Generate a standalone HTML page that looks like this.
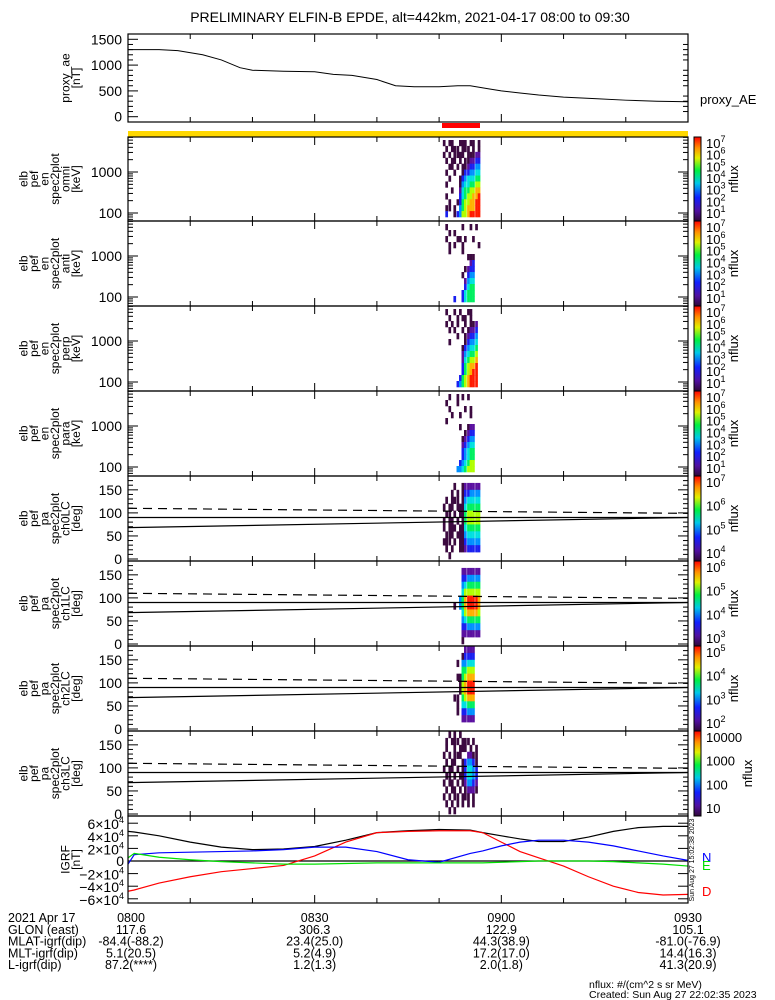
<!DOCTYPE html>
<html><head><meta charset="utf-8">
<style>
html,body{margin:0;padding:0;background:#fff;}
svg{display:block;font-family:"Liberation Sans",sans-serif;}
</style></head>
<body>
<svg id="c" width="775" height="1000" viewBox="0 0 775 1000" xmlns="http://www.w3.org/2000/svg">
<text x="410" y="22" text-anchor="middle" font-size="14" fill="#000">PRELIMINARY ELFIN-B EPDE, alt=442km, 2021-04-17 08:00 to 09:30</text>
</svg>
<script>
// ---------- data ----------
const aeTimes = [0,5,8,12,15,18,20,25,30,33,36,40,43,46,50,53,55,58,60,63,66,70,75,80,85,90];
const aeValues = [1300,1300,1280,1200,1100,950,900,880,870,820,800,720,600,580,580,600,600,540,500,460,420,380,350,320,300,290];
const aeTicks = [0,500,1000,1500];

const igrfTimes = [0,1,5,10,15,20,25,30,35,40,45,50,55,57,60,63,66,70,74,78,82,86,90];
const igrfT = [47000,46000,40000,30000,22000,18000,19000,23000,33000,45000,48000,50000,49000,45000,40000,35000,31000,31000,38000,47000,53000,55000,55000];
const igrfD = [-48000,-46000,-35000,-25000,-17000,-12000,-7000,8000,30000,45000,47000,48000,48000,45000,30000,15000,5000,-8000,-25000,-40000,-50000,-54000,-53000];
const igrfN = [-5000,10000,13000,14000,15000,16000,18000,22000,22000,15000,2000,-2000,12000,16000,24000,30000,33000,33000,30000,24000,16000,8000,1000];
const igrfE = [5000,12000,6000,2000,-1000,-3000,-5000,-5000,-4000,-3000,-3000,-3000,-3000,-3000,-2000,-1000,0,0,0,-1000,-3000,-5000,-8000];
const igrfTicks = [60000,40000,20000,0,-20000,-40000,-60000];

const colTimes = [50.6,51.0,51.5,51.9,52.3,52.8,53.2,53.6,54.0,54.5,54.9,55.3,55.8,56.2];
const omniRows = ["10110011101101","01011101110101","10101111011122","01011010112233","00110101123344","01001001334455","00100013455566","01000014556677","00010025667788","01000035677889","00100136778899","01101046788899","03001347789999"];
const antiRows = ["01000001001010","00101000000000","01000110100100","00101001000001","00100001000000","00000000011100","00000000002300","00000000123300","00000001034400","00000000245500","00000000356600","00000003566600","00003003566600"];
const perpRows = ["01001010011000","00100101101000","01010100101120","00101001012230","00000100123340","00100000134450","00000001345560","00000002456670","00000002567780","00000003678890","00000003678990","00000036789990","00000346789990"];
const paraRows = ["00100101010000","01000100000000","00100000101000","00010010001000","01000000000000","00000010012200","00000000123300","00000001234400","00000002345500","00000003456600","00000003456600","00000034567700","00000445677700"];
const ch0Rows = ["00000000000000","00001001222222","00010101334444","01011101455555","10110111566666","01101011677777","10110101677777","10111011566666","01110111455555","11101011344444","01010011233333","00100000000000"];
const ch1Rows = ["00000000000000","00000002222222","00000003344444","00000004566666","00000005777777","00000046899998","00001046899998","00000005788887","00000004566666","00000003344444","00000002222222","00000001000000"];
const ch2Rows = ["00000000222200","00000001333300","00000104455500","00000006677700","00000116788800","00000017899900","00000017899900","00001106788800","00000105566600","00000103344400","00000002222200","00000000000000"];
const ch3Rows = ["00101010000000","01011101110100","01001011101010","10101110022110","01011001344310","10110101355430","01101011355430","10110101244320","01011010122210","10101101110100","01010101010100","00101000000000"];
const cbLabels1 = ["7","6","5","4","3","2","1"];
const cbLabels5 = ["7","6","5","4"];
const cbLabels6 = ["6","5","4","3"];
const cbLabels7 = ["5","4","3","2"];
const cbLabels8 = ["10000","1000","100","10"];
const lcTimes = [0,90];
const lcLower = [68,90];
const lcDashed = [110,99];

// ---------- helpers ----------
const svg = document.getElementById('c');
const NS = 'http://www.w3.org/2000/svg';
const X0 = 128, X1 = 688;
const xs = t => X0 + t * (X1 - X0) / 90;
function mk(tag, attrs, parent) {
  const e = document.createElementNS(NS, tag);
  for (const k in attrs) e.setAttribute(k, attrs[k]);
  (parent || svg).appendChild(e);
  return e;
}
function txt(x, y, s, size, anchor, parent, extra) {
  const e = mk('text', Object.assign({x: x, y: y, 'font-size': size, 'text-anchor': anchor || 'start', fill: '#000'}, extra || {}), parent);
  e.textContent = s;
  return e;
}
const cmap = ['none', '#3c0a40', '#5a10a0', '#1a20f0', '#0090ff', '#00e0e0', '#00f060', '#b0ff00', '#ffb000', '#ff1a00'];

function timeTicks(top, bot, g) {
  for (let m = 0; m <= 90; m += 10) {
    const x = xs(m);
    const len = (m % 30 === 0) ? 8 : 5;
    mk('line', {x1: x, y1: bot, x2: x, y2: bot - len, stroke: '#000'}, g);
    mk('line', {x1: x, y1: top, x2: x, y2: top + len, stroke: '#000'}, g);
  }
}
function box(top, bot, g) {
  mk('rect', {x: X0, y: top, width: X1 - X0, height: bot - top, fill: 'none', stroke: '#000', 'stroke-width': 1.2}, g);
}
function ylab(lines, top, bot, g) {
  const cy = (top + bot) / 2;
  const n = lines.length;
  lines.forEach((s, i) => {
    const x = 80 - (n - 1 - i) * 10.5;
    const t = txt(x, cy, s, 12, 'middle', g, {transform: 'rotate(-90 ' + x + ' ' + cy + ')'});
    
    
  });
}
function colorbar(top, bot, labels, sup, g) {
  const id = 'grad' + top;
  const defs = mk('defs', {}, g);
  const lg = mk('linearGradient', {id: id, x1: 0, y1: 1, x2: 0, y2: 0}, defs);
  [['0', '#300838'], ['0.12', '#5010a0'], ['0.28', '#1020ff'], ['0.45', '#00c8e8'], ['0.6', '#00f040'], ['0.75', '#e0f000'], ['0.87', '#ff9000'], ['1', '#ff0000']].forEach(s => mk('stop', {offset: s[0], 'stop-color': s[1]}, lg));
  const r = mk('rect', {x: 694, y: top, width: 7, height: bot - top, fill: 'url(#' + id + ')', stroke: '#000', 'stroke-width': 1}, g);
  
  
  const n = labels.length;
  labels.forEach((l, i) => {
    const y = top + 11 + i * (bot - top - 14) / (n - 1);
    if (sup) {
      const t = txt(706, y, '10', 13, 'start', g);
      const sp = mk('tspan', {dy: -6, 'font-size': 9}, t);
      sp.textContent = l;
    } else {
      txt(706, y, l, 13, 'start', g);
    }
  });
  const cy = (top + bot) / 2, cx = sup ? 738 : 752;
  txt(cx, cy, 'nflux', 13, 'middle', g, {transform: 'rotate(-90 ' + cx + ' ' + cy + ')'});
}
function cells(rows, top, bot, g) {
  const nr = rows.length, rh = (bot - top) / nr;
  const cw = (xs(colTimes[1]) - xs(colTimes[0]));
  rows.forEach((row, ri) => {
    for (let ci = 0; ci < row.length; ci++) {
      const v = +row[ci];
      if (!v) continue;
      const c = mk('rect', {x: xs(colTimes[ci]), y: top + ri * rh, width: cw + 0.2, height: rh + 0.3, fill: cmap[v]}, g);
      
      
    }
  });
}

// ---------- proxy AE panel ----------
(function () {
  const g = mk('g', {});
  
  
  const top = 34, bot = 122;
  const ys = v => 116.7 - v * (116.7 - 39.3) / 1500;
  box(top, bot, g); timeTicks(top, bot, g);
  aeTicks.forEach(v => { mk('line', {x1: X0, y1: ys(v), x2: X0 + 10, y2: ys(v), stroke: '#000'}, g); txt(122, ys(v) + 5, String(v), 14, 'end', g); });
  for (let v = 100; v < 1600; v += 100) if (v % 500) { mk('line', {x1: X0, y1: ys(v), x2: X0 + 5, y2: ys(v), stroke: '#000'}, g); mk('line', {x1: X1, y1: ys(v), x2: X1 - 5, y2: ys(v), stroke: '#000'}, g); }
  const p = mk('polyline', {points: aeTimes.map((t, i) => xs(t) + ',' + ys(aeValues[i])).join(' '), fill: 'none', stroke: '#000', 'stroke-width': 1}, g);
  
  
  ylab(['proxy_ae', '[nT]'], top, bot, g);
  txt(700, 104, 'proxy_AE', 13, 'start', g);
})();

// bars
(function () {
  const r1 = mk('rect', {x: 442, y: 123, width: 38, height: 5, fill: '#ff0000'});
  
  
  const r2 = mk('rect', {x: X0, y: 131, width: X1 - X0, height: 6, fill: '#ffd800'});
  
  
})();

// ---------- energy spectrogram panels ----------
const eSpecs = [
  {rows: omniRows, top: 137, bot: 221, name: 'omni'},
  {rows: antiRows, top: 221, bot: 306, name: 'anti'},
  {rows: perpRows, top: 306, bot: 391, name: 'perp'},
  {rows: paraRows, top: 391, bot: 476, name: 'para'}
];
eSpecs.forEach(p => {
  const g = mk('g', {});
  
  
  cells(p.rows, p.top + 3, p.bot - 4, g);
  const ys = e => p.top + 35 - (Math.log10(e) - 3) * 41;
  for (let d = 10; d <= 10000; d *= 10) for (let k = 1; k < 10; k++) {
    const y = ys(d * k);
    if (y < p.top || y > p.bot) continue;
    const len = k === 1 ? 10 : 5;
    mk('line', {x1: X0, y1: y, x2: X0 + len, y2: y, stroke: '#000'}, g);
    mk('line', {x1: X1, y1: y, x2: X1 - len, y2: y, stroke: '#000'}, g);
  }
  txt(122, ys(1000) + 5, '1000', 14, 'end', g);
  txt(122, ys(100) + 5, '100', 14, 'end', g);
  box(p.top, p.bot, g); timeTicks(p.top, p.bot, g);
  ylab(['elb', 'pef', 'en', 'spec2plot', p.name, '[keV]'], p.top, p.bot, g);
  colorbar(p.top, p.bot, cbLabels1, true, g);
});

// ---------- pitch angle panels ----------
const paSpecs = [
  {rows: ch0Rows, top: 476, bot: 561, name: 'ch0LC', cb: cbLabels5, sup: true},
  {rows: ch1Rows, top: 561, bot: 646, name: 'ch1LC', cb: cbLabels6, sup: true},
  {rows: ch2Rows, top: 646, bot: 731, name: 'ch2LC', cb: cbLabels7, sup: true},
  {rows: ch3Rows, top: 731, bot: 816, name: 'ch3LC', cb: cbLabels8, sup: false}
];
paSpecs.forEach(p => {
  const g = mk('g', {});
  
  
  const ys = a => p.bot - 2 - a * (p.bot - p.top - 2) / 180;
  cells(p.rows, ys(180), ys(0), g);
  for (let a = 0; a <= 180; a += 10) {
    const len = a % 50 === 0 ? 10 : 5;
    mk('line', {x1: X0, y1: ys(a), x2: X0 + len, y2: ys(a), stroke: '#000'}, g);
    mk('line', {x1: X1, y1: ys(a), x2: X1 - len, y2: ys(a), stroke: '#000'}, g);
  }
  [0, 50, 100, 150].forEach(a => txt(122, ys(a) + 5, String(a), 14, 'end', g));
  const l90 = mk('line', {x1: X0, y1: ys(90), x2: X1, y2: ys(90), stroke: '#000', 'stroke-width': 1.2}, g);
  
  
  const lc = mk('polyline', {points: lcTimes.map((t, i) => xs(t) + ',' + ys(lcLower[i])).join(' '), fill: 'none', stroke: '#000', 'stroke-width': 1.2}, g);
  
  
  const alc = mk('polyline', {points: lcTimes.map((t, i) => xs(t) + ',' + ys(lcDashed[i])).join(' '), fill: 'none', stroke: '#000', 'stroke-width': 1.2, 'stroke-dasharray': '9,6'}, g);
  
  
  box(p.top, p.bot, g); timeTicks(p.top, p.bot, g);
  ylab(['elb', 'pef', 'pa', 'spec2plot', p.name, '[deg]'], p.top, p.bot, g);
  colorbar(p.top, p.bot, p.cb, p.sup, g);
});

// ---------- IGRF panel ----------
(function () {
  const g = mk('g', {});
  
  
  const top = 816, bot = 903;
  const ys = v => 861 - v * 6.3 / 10000;
  igrfTicks.forEach(v => {
    mk('line', {x1: X0, y1: ys(v), x2: X0 + 10, y2: ys(v), stroke: '#000'}, g);
    mk('line', {x1: X1, y1: ys(v), x2: X1 - 10, y2: ys(v), stroke: '#000'}, g);
    if (v === 0) { txt(124, ys(v) + 5, '0', 14, 'end', g); return; }
    const t = txt(124, ys(v) + 6, (v < 0 ? '\u2212' : '') + Math.abs(v / 10000) + '\u00d710', 14, 'end', g);
    const sp = mk('tspan', {dy: -6, 'font-size': 9}, t); sp.textContent = '4';
  });
  mk('line', {x1: X0, y1: ys(0), x2: X1, y2: ys(0), stroke: '#000', 'stroke-width': 1.2}, g);
  const series = [[igrfT, '#000', 'igrf-total-line'], [igrfD, '#ff0000', 'igrf-d-line'], [igrfN, '#0000ff', 'igrf-n-line'], [igrfE, '#00e000', 'igrf-e-line']];
  series.forEach(s => {
    const p = mk('polyline', {points: igrfTimes.map((t, i) => xs(t) + ',' + ys(s[0][i])).join(' '), fill: 'none', stroke: s[1], 'stroke-width': 1.2}, g);
    
    
  });
  box(top, bot, g); timeTicks(top, bot, g);
  ylab(['IGRF', '[nT]'], top, bot, g);
  txt(702, 862, 'N', 13, 'start', g, {fill: '#0000ff'});
  txt(702, 870, 'E', 13, 'start', g, {fill: '#00e000'});
  txt(702, 896, 'D', 13, 'start', g, {fill: '#ff0000'});
  txt(694, 860, 'Sun Aug 27 15:02:38 2023', 7, 'middle', g, {transform: 'rotate(-90 694 860)'});
})();

// ---------- bottom annotation ----------
(function () {
  const g = mk('g', {});
  
  
  const rows = [
    ['2021 Apr 17', '0800', '0830', '0900', '0930'],
    ['GLON (east)', '117.6', '306.3', '122.9', '105.1'],
    ['MLAT-igrf(dip)', '-84.4(-88.2)', '23.4(25.0)', '44.3(38.9)', '-81.0(-76.9)'],
    ['MLT-igrf(dip)', '5.1(20.5)', '5.2(4.9)', '17.2(17.0)', '14.4(16.3)'],
    ['L-igrf(dip)', '87.2(****)', '1.2(1.3)', '2.0(1.8)', '41.3(20.9)']
  ];
  const cols = [xs(0) + 3, xs(30), xs(60), xs(90)];
  rows.forEach((r, i) => {
    const y = 922 + i * 11.8;
    txt(8, y, r[0], 12.5, 'start', g);
    for (let k = 1; k < 5; k++) txt(cols[k - 1], y, r[k], 12.5, 'middle', g);
  });
  txt(589, 988, 'nflux: #/(cm^2 s sr MeV)', 10.5, 'start', g);
  txt(589, 998, 'Created: Sun Aug 27 22:02:35 2023', 10.5, 'start', g);
})();
</script>
</body></html>
